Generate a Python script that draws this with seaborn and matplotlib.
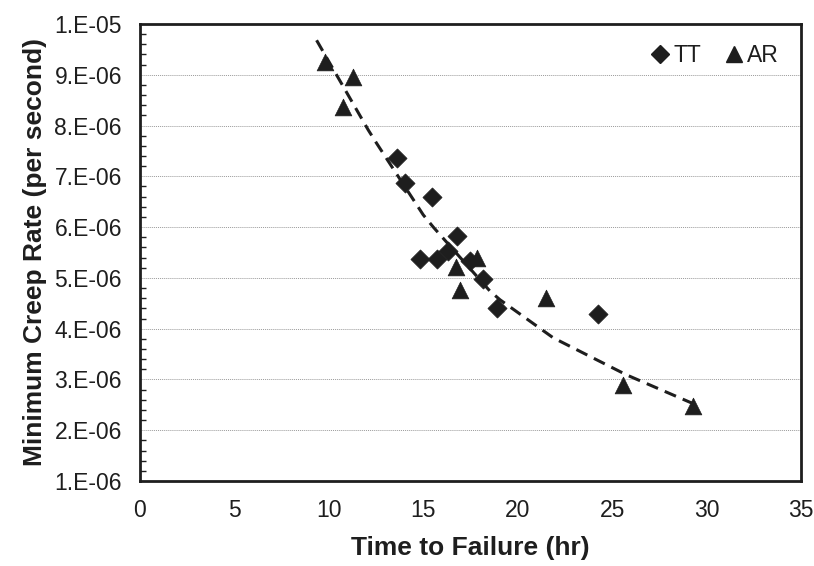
import matplotlib
matplotlib.use("Agg")
import matplotlib.pyplot as plt
import matplotlib.ticker as mticker
from matplotlib.lines import Line2D
import numpy as np
import pandas as pd
import seaborn as sns

# ---- data ----
tt_time = [13.62, 14.03, 15.44, 16.77, 14.82, 15.71, 16.32, 17.47, 18.17, 18.88, 24.26]
tt_rate = [7.37e-6, 6.87e-6, 6.60e-6, 5.83e-6, 5.37e-6, 5.37e-6, 5.52e-6, 5.34e-6, 4.98e-6, 4.40e-6, 4.29e-6]
ar_time = [9.79, 11.26, 10.73, 16.73, 17.82, 16.94, 21.49, 25.59, 29.29]
ar_rate = [9.26e-6, 8.96e-6, 8.36e-6, 5.22e-6, 5.39e-6, 4.76e-6, 4.60e-6, 2.89e-6, 2.48e-6]
trend_time = [9.35, 12.09, 12.53, 15.0, 15.53, 16.41, 18.53, 19.06, 21.88, 25.76, 29.56]
trend_rate = [9.68e-6, 7.91e-6, 7.65e-6, 6.24e-6, 6.00e-6, 5.63e-6, 4.74e-6, 4.57e-6, 3.82e-6, 3.09e-6, 2.48e-6]
series_names = ["TT", "AR"]
x_ticks = [0, 5, 10, 15, 20, 25, 30, 35]
y_ticks = [1e-6, 2e-6, 3e-6, 4e-6, 5e-6, 6e-6, 7e-6, 8e-6, 9e-6, 1e-5]

tt_df = pd.DataFrame({"time": tt_time, "rate": tt_rate})
ar_df = pd.DataFrame({"time": ar_time, "rate": ar_rate})
trend_df = pd.DataFrame({"time": trend_time, "rate": trend_rate})

sns.set_style("white")
plt.rcParams["font.family"] = ["Liberation Sans", "DejaVu Sans"]

W, H = 814, 566
fig = plt.figure(figsize=(W / 100, H / 100), dpi=100)
ax = fig.add_axes([140 / W, 1 - 481 / H, (801 - 140) / W, (481 - 24) / H])

mk = "#1e1e1e"
sns.lineplot(data=trend_df, x="time", y="rate", ax=ax, color="#1e1e1e",
             linewidth=2.2, linestyle=(0, (4, 2.4)), legend=False, zorder=3)
sns.scatterplot(data=tt_df, x="time", y="rate", ax=ax, marker="D", s=95,
                color=mk, edgecolor=mk, linewidth=0.5, legend=False, zorder=4)
sns.scatterplot(data=ar_df, x="time", y="rate", ax=ax, marker="^", s=145,
                color=mk, edgecolor=mk, linewidth=0.5, legend=False, zorder=5)

ax.set_xlim(0, 35)
ax.set_ylim(1e-6, 1e-5)
ax.set_xticks(x_ticks)
ax.set_yticks(y_ticks)
ax.yaxis.set_major_formatter(mticker.FuncFormatter(lambda v, p: f"{v:.0E}".replace("E", ".E")))
ax.yaxis.set_minor_locator(mticker.MultipleLocator(2e-7))

ax.grid(axis="y", which="major", color="#9a9a9a", linestyle=(0, (1, 1)), linewidth=0.7)
ax.grid(axis="x", visible=False)

for s in ax.spines.values():
    s.set_visible(True)
    s.set_color("#1e1e1e")
    s.set_linewidth(2.0)

ax.tick_params(axis="both", which="major", direction="inout", length=9, width=1.2,
               colors="#1e1e1e", labelsize=16.5, pad=8.5, labelcolor="#1e1e1e")
ax.tick_params(axis="y", which="minor", direction="in", length=4.5, width=1.0,
               colors="#1e1e1e", left=True)
ax.tick_params(axis="x", which="minor", bottom=False)

ax.set_xlabel("Time to Failure (hr)", fontsize=19, fontweight="bold", labelpad=10, color="#1e1e1e")
ax.set_ylabel("Minimum Creep Rate (per second)", fontsize=19, fontweight="bold", labelpad=5, color="#1e1e1e")

handles = [
    Line2D([], [], marker="D", linestyle="none", color=mk, markersize=9.5),
    Line2D([], [], marker="^", linestyle="none", color=mk, markersize=11.5),
]
ax.legend(handles, series_names, loc="center right", bbox_to_anchor=(0.967, 0.932),
          ncol=2, frameon=False, fontsize=16.5, handlelength=0.8, handletextpad=0.2,
          columnspacing=1.0, borderpad=0, borderaxespad=0, labelcolor="#1e1e1e")

fig.savefig("out.png", dpi=100)
